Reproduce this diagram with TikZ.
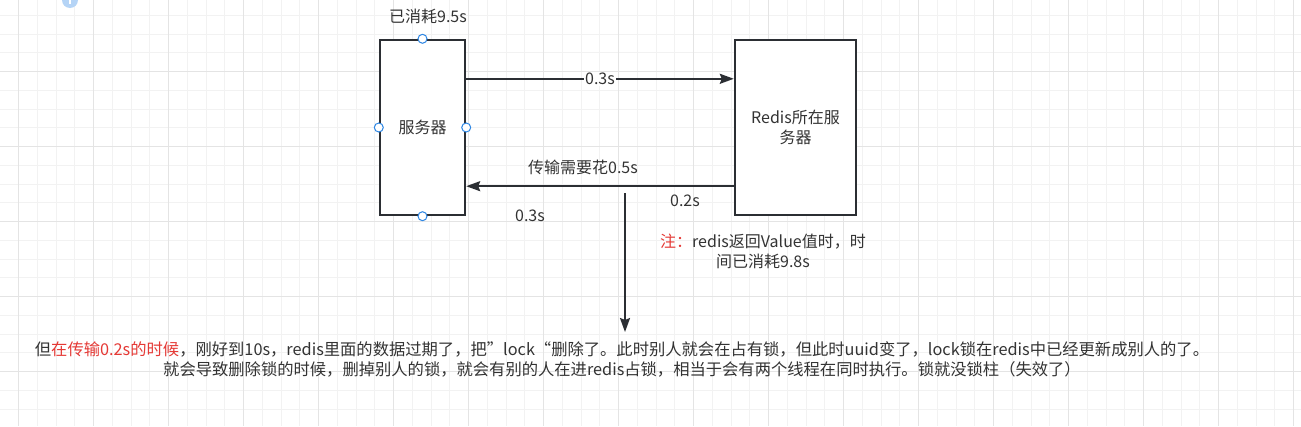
\documentclass[tikz,border=0pt]{standalone}
\usepackage{fontspec}
\setmainfont{Noto Sans CJK SC}
\usetikzlibrary{arrows.meta,positioning}
\definecolor{txt}{HTML}{333333}
\definecolor{edge}{HTML}{2B2E33}
\definecolor{warn}{HTML}{E53935}
\definecolor{pick}{HTML}{2B85E4}
\definecolor{gridlo}{HTML}{F2F2F2}
\definecolor{gridhi}{HTML}{E4E4E4}
\begin{document}
\begin{tikzpicture}[x=1pt, y=-1pt,
  font=\fontsize{16}{20}\selectfont,
  box/.style={draw=edge, line width=2.4pt, fill=white, minimum height=175pt, text=txt, align=center},
  lbl/.style={text=txt, inner sep=0pt, align=center},
  conn/.style={draw=edge, line width=2pt, -{Stealth[length=14pt,width=10pt,inset=2pt]}},
  handle/.style={draw=pick, line width=1pt, fill=white}]

\useasboundingbox (0,0) rectangle (1301,426);
\fill[white] (0,0) rectangle (1301,426);
\foreach \i in {0,...,70}
\draw[gridlo, line width=1pt] ({18.7+18.75*(\i-1)},0) -- ++(0,426);
\foreach \i in {0,...,23}
\draw[gridlo, line width=1pt] (0,{15.45+18.75*(\i-1)}) -- ++(1301,0);
\foreach \i in {0,...,17}
\draw[gridhi, line width=1pt] ({18.7+75*\i},0) -- ++(0,426);
\foreach \i in {0,...,5}
\draw[gridhi, line width=1pt] (0,{-3.3+75*\i}) -- ++(1301,0);
\fill[pick!35] (70,0) circle[radius=8];
\draw[white, line width=1.5pt] (70,-2) -- (70,4);

\node[box, minimum width=85pt] (srv) at (422.5,127.5) {服务器};
\node[box, minimum width=121pt] (redis) at (795.5,127.5) {Redis所在服\\务器};
\node[lbl] (used) at (428,16) {已消耗9.5s};

\draw[conn] ([yshift=-40pt]srv.north east) -- ([yshift=-40pt]srv.north east -| redis.west)
  node[midway, fill=white, inner sep=1pt, text=txt] (go) {0.3s};
\draw[conn] ([yshift=30pt]redis.south west) -- ([yshift=30pt]redis.south west -| srv.east);
\node[lbl] (back) at (583,167) {传输需要花0.5s};
\node[lbl] (backa) at (530,216) {0.3s};
\node[lbl] (backb) at (685,201) {0.2s};
\node[lbl] (note) at (763,251) {{\color{warn}注：}redis返回Value值时，时\\间已消耗9.8s};

\coordinate (drop) at (625,193);
\coordinate (dropend) at (625,332);
\draw[conn] (drop) -- (dropend);
\node[lbl, font=\fontsize{16.3}{20}\selectfont] (sum) at (622,359) {但{\color{warn}在传输0.2s的时候}，刚好到10s，redis里面的数据过期了，把”lock“删除了。此时别人就会在占有锁，但此时uuid变了，lock锁在redis中已经更新成别人的了。\\就会导致删除锁的时候，删掉别人的锁，就会有别的人在进redis占锁，相当于会有两个线程在同时执行。锁就没锁柱（失效了）};

\foreach \a in {north,south,east,west}
\draw[handle] (srv.\a) circle[radius=4.5];

\end{tikzpicture}
\end{document}
